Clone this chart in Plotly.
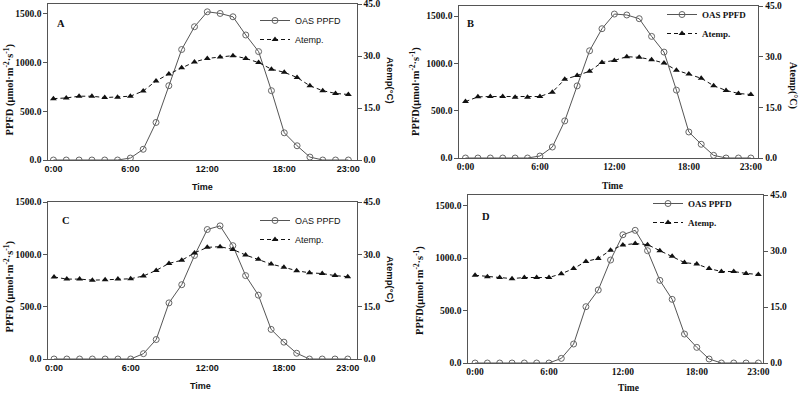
import plotly.graph_objects as go

hours = [0, 1, 2, 3, 4, 5, 6, 7, 8, 9, 10, 11, 12, 13, 14, 15, 16, 17, 18, 19, 20, 21, 22, 23]
tick_vals = [0, 6, 12, 18, 23]
tick_text = ["0:00", "6:00", "12:00", "18:00", "23:00"]

ppfd_A = [0, 0, 0, 0, 0, 0, 20, 110, 385, 762, 1133, 1367, 1520, 1503, 1469, 1282, 1112, 711, 279, 146, 30, 0, 0, 0]
temp_A = [17.7, 17.9, 18.4, 18.4, 18.0, 18.1, 18.4, 19.9, 22.8, 24.8, 26.6, 28.3, 29.3, 29.7, 30.1, 29.3, 28.1, 26.2, 25.3, 23.8, 21.4, 20.0, 19.2, 18.9]
ppfd_B = [0, 0, 0, 0, 0, 0, 21, 116, 392, 762, 1133, 1366, 1521, 1511, 1472, 1285, 1119, 717, 275, 145, 28, 0, 0, 0]
temp_B = [16.7, 18.1, 18.2, 18.2, 18.0, 18.0, 18.2, 19.5, 23.3, 24.4, 25.7, 28.3, 28.9, 30.0, 29.8, 29.1, 28.1, 26.0, 24.9, 23.6, 21.4, 20.0, 19.1, 18.8]
ppfd_C = [0, 0, 0, 0, 0, 0, 0, 51, 186, 536, 710, 989, 1237, 1272, 1083, 797, 610, 283, 161, 55, 0, 0, 0, 0]
temp_C = [23.5, 22.9, 22.9, 22.6, 22.7, 22.9, 23.0, 23.8, 25.4, 27.4, 28.3, 30.4, 32.0, 32.2, 31.4, 29.8, 28.6, 27.2, 26.3, 25.3, 24.7, 24.5, 23.9, 23.6]
ppfd_D = [0, 0, 0, 0, 0, 0, 0, 44, 181, 537, 696, 982, 1223, 1265, 1071, 788, 607, 276, 149, 38, 0, 0, 0, 0]
temp_D = [23.5, 23.1, 22.9, 22.6, 22.9, 22.9, 22.9, 23.9, 25.3, 27.2, 28.0, 30.2, 31.6, 32.0, 31.7, 30.1, 28.6, 26.9, 26.5, 25.3, 24.5, 24.5, 24.0, 23.7]

W, H = 800, 394
SERIF = "Liberation Serif, Times New Roman, serif"
SANS = "Liberation Sans, Arial, sans-serif"
AXC = "#555555"

def px(x):
    return x / W

def py(y):
    return 1 - y / H

# panel geometry in pixels: left, right, top, bottom
panels = {
    "A": dict(l=48.3, r=356.7, t=4, b=160, xr=[-0.4, 23.65], yl=1600, tickfont=SANS, serif=False,
              ppfd=ppfd_A, temp=temp_A),
    "B": dict(l=459.3, r=758.3, t=6, b=158, xr=[-0.5, 23.6], yl=1606, tickfont=SERIF, serif=True,
              ppfd=ppfd_B, temp=temp_B),
    "C": dict(l=48.3, r=356.7, t=202, b=359, xr=[-0.45, 23.7], yl=1500, tickfont=SANS, serif=False,
              ppfd=ppfd_C, temp=temp_C),
    "D": dict(l=468.3, r=763.3, t=195, b=363, xr=[-0.55, 23.4], yl=1602, tickfont=SERIF, serif=True,
              ppfd=ppfd_D, temp=temp_D),
}

fig = go.Figure()
layout = {}
legend_names = ["legend", "legend2", "legend3", "legend4"]
legend_pos = {"A": (255, 6), "B": (662, 0), "C": (255, 206), "D": (648, 189)}

for i, (name, p) in enumerate(panels.items()):
    n = i + 1
    xa = "x" if n == 1 else f"x{n}"
    yl = f"y{2*n-1}" if n > 1 else "y"
    yr = f"y{2*n}"
    lg = legend_names[i]
    sfont = SERIF if p["serif"] else SANS
    fig.add_trace(go.Scatter(
        x=hours, y=p["ppfd"], name="OAS PPFD", mode="lines+markers",
        xaxis=xa, yaxis=yl, legend=lg,
        line=dict(color="#555555", width=1),
        marker=dict(symbol="circle-open", size=6, color="#666666", line=dict(width=1))))
    fig.add_trace(go.Scatter(
        x=hours, y=p["temp"], name="Atemp.", mode="lines+markers",
        xaxis=xa, yaxis=yr, legend=lg,
        line=dict(color="#111111", width=1, dash="4px,3px"),
        marker=dict(symbol="triangle-up", size=6, color="#111111")))

    xkey = "xaxis" if n == 1 else f"xaxis{n}"
    ylkey = "yaxis" if n == 1 else f"yaxis{2*n-1}"
    yrkey = f"yaxis{2*n}"
    layout[xkey] = dict(
        domain=[px(p["l"]), px(p["r"])], anchor=yl, range=p["xr"], automargin=False,
        tickvals=tick_vals, ticktext=tick_text, showgrid=False, zeroline=False,
        showline=True, linecolor=AXC, linewidth=1, mirror=True, ticks="",
        tickfont=dict(family=p["tickfont"], size=9.5 if p["serif"] else 9, color="#111", weight="bold"))
    layout[ylkey] = dict(
        domain=[py(p["b"]), py(p["t"])], anchor=xa, range=[0, p["yl"]], automargin=False,
        tickvals=[0, 500, 1000, 1500], tickformat=".1f", showgrid=False, zeroline=False,
        showline=True, linecolor=AXC, linewidth=1, ticks="outside", ticklen=4, tickcolor=AXC,
        ticklabeloverflow="allow",
        tickfont=dict(family=SERIF, size=9.5, color="#111", weight="bold"))
    layout[yrkey] = dict(
        overlaying=yl, side="right", anchor=xa, range=[0, 45], automargin=False,
        tickvals=[0, 15, 30, 45], tickformat=".1f", showgrid=False, zeroline=False,
        showline=True, linecolor=AXC, linewidth=1, ticks="outside", ticklen=4, tickcolor=AXC,
        ticklabeloverflow="allow",
        tickfont=dict(family=SERIF, size=9.5, color="#111", weight="bold"))
    lx, ly = legend_pos[name]
    layout[lg] = dict(
        x=px(lx), y=py(ly), xanchor="left", yanchor="top", bgcolor="rgba(0,0,0,0)",
        font=dict(family=sfont, size=9, color="#111", weight="bold" if p["serif"] else "normal"))

fig.update_layout(**layout)

ann = []
def add_text(text, x, y, family, size, bold=True, angle=0):
    ann.append(dict(text=text, x=px(x), y=py(y), xref="paper", yref="paper",
                    showarrow=False, textangle=angle, xanchor="center", yanchor="middle",
                    font=dict(family=family, size=size, color="#111", weight="bold" if bold else "normal")))

# panel letters
add_text("A", 61, 23, SERIF, 10.5)
add_text("B", 470, 24, SERIF, 10.5)
add_text("C", 66, 220, SERIF, 10.5)
add_text("D", 486, 216, SERIF, 10.5)
# x titles
add_text("Time", 202, 187, SANS, 9)
add_text("Time", 612, 186, SERIF, 9.5)
add_text("Time", 201, 386, SANS, 9)
add_text("Time", 628, 388, SERIF, 9.5)
# left titles
add_text("PPFD (μmol·m<sup>-2</sup>·s<sup>-1</sup>)", 8.5, 90, SERIF, 10.5, angle=-90)
add_text("PPFD(μmol·m<sup>-2</sup>·s<sup>-1</sup>)", 415, 92, SERIF, 10.5, angle=-90)
add_text("PPFD (μmol·m<sup>-2</sup>·s<sup>-1</sup>)", 8.5, 287, SERIF, 10.5, angle=-90)
add_text("PPFD(μmol·m<sup>-2</sup>·s<sup>-1</sup>)", 419, 291, SERIF, 10.5, angle=-90)
# right titles
add_text("Atemp(°C)", 390, 80, SANS, 9.5, angle=90)
add_text("Atemp(°C)", 793, 85, SERIF, 10, angle=90)
add_text("Atemp(°C)", 391, 279, SANS, 9.5, angle=90)

fig.update_layout(
    width=W, height=H, margin=dict(l=0, r=0, t=0, b=0),
    paper_bgcolor="white", plot_bgcolor="white",
    annotations=ann, showlegend=True)

fig.write_html("out.html", config={"displayModeBar": False},
               post_script="document.body.style.margin='0';document.body.style.overflow='hidden';")
